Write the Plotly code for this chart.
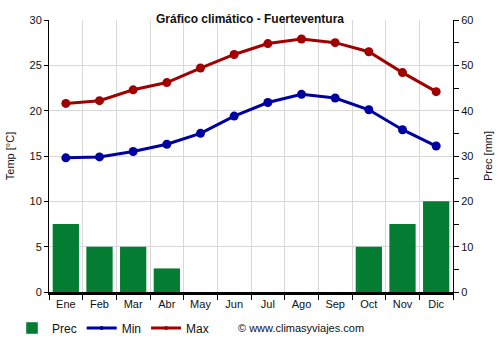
import plotly.graph_objects as go

months = ["Ene", "Feb", "Mar", "Abr", "May", "Jun", "Jul", "Ago", "Sep", "Oct", "Nov", "Dic"]
prec = [15, 10, 10, 5.2, 0, 0, 0, 0, 0, 10, 15, 20]
tmin = [14.8, 14.9, 15.5, 16.3, 17.5, 19.4, 20.9, 21.8, 21.4, 20.1, 17.9, 16.1]
tmax = [20.8, 21.1, 22.3, 23.1, 24.7, 26.2, 27.4, 27.9, 27.5, 26.5, 24.2, 22.1]
temp_ticks = [0, 5, 10, 15, 20, 25, 30]
prec_ticks = [0, 5, 10, 15, 20, 25, 30, 35, 40, 45, 50, 55, 60]

font = "Liberation Sans, Arial, sans-serif"
GREEN, BLUE, RED = "#047c31", "#0000a0", "#a00000"
fig = go.Figure()
fig.add_trace(go.Bar(x=months, y=prec, name="Prec", marker=dict(color=GREEN, line=dict(width=0)),
                     yaxis="y2", width=0.78, showlegend=False))
fig.add_trace(go.Scatter(x=months, y=tmin, name="Min", mode="lines+markers", showlegend=False,
                         line=dict(color=BLUE, width=3), marker=dict(size=9, color=BLUE)))
fig.add_trace(go.Scatter(x=months, y=tmax, name="Max", mode="lines+markers", showlegend=False,
                         line=dict(color=RED, width=3), marker=dict(size=9, color=RED)))
# legend entries
fig.add_trace(go.Bar(x=[None], y=[None], name="Prec", marker=dict(color=GREEN), yaxis="y2"))
fig.add_trace(go.Scatter(x=[None], y=[None], name="Min", mode="lines+markers",
                         line=dict(color=BLUE, width=3), marker=dict(size=4, color=BLUE)))
fig.add_trace(go.Scatter(x=[None], y=[None], name="Max", mode="lines+markers",
                         line=dict(color=RED, width=3), marker=dict(size=4, color=RED)))

fig.update_layout(
    width=500, height=350,
    margin=dict(l=49, r=47, t=20, b=58, autoexpand=False),
    paper_bgcolor="white", plot_bgcolor="white",
    font=dict(family=font, size=11, color="#111"),
    title=dict(text="<b>Gráfico climático - Fuerteventura</b>", x=0.5, xanchor="center",
               y=1 - 19 / 350, yanchor="middle", font=dict(size=12, color="#111")),
    xaxis=dict(type="category", tickson="boundaries", ticks="outside", ticklen=5, tickcolor="black",
               showgrid=True, gridcolor="#d8d8d8", gridwidth=1, showline=True, linecolor="black",
               linewidth=2.5, range=[-0.5, 11.5], tickfont=dict(size=11), automargin=False),
    yaxis=dict(range=[0, 30], tickvals=temp_ticks, showgrid=True, gridcolor="#d8d8d8",
               showline=True, linecolor="black", linewidth=1, ticks="outside", ticklen=4,
               tickcolor="black", zeroline=False, automargin=False,
               title=dict(text="Temp [°C]", font=dict(size=11), standoff=12)),
    yaxis2=dict(range=[0, 60], overlaying="y", side="right", tickvals=prec_ticks,
                ticktext=[str(v) if v % 10 == 0 else "" for v in prec_ticks],
                showgrid=False, showline=True, linecolor="black", linewidth=1, ticks="outside",
                ticklen=5, tickcolor="black", zeroline=False, automargin=False,
                title=dict(text="Prec [mm]", font=dict(size=11), standoff=11)),
    legend=dict(orientation="h", xref="paper", yref="paper", x=(12 - 49) / 404,
                y=(292 - 328) / 272, xanchor="left", yanchor="middle", font=dict(size=12),
                itemwidth=30, traceorder="normal", bgcolor="rgba(0,0,0,0)"),
    showlegend=True,
)
fig.add_annotation(text="© www.climasyviajes.com", xref="paper", yref="paper",
                   x=(236 - 49) / 404, y=(292 - 328) / 272, xanchor="left", yanchor="middle",
                   showarrow=False, font=dict(size=11, color="#111"))
fig.write_html("out.html")
